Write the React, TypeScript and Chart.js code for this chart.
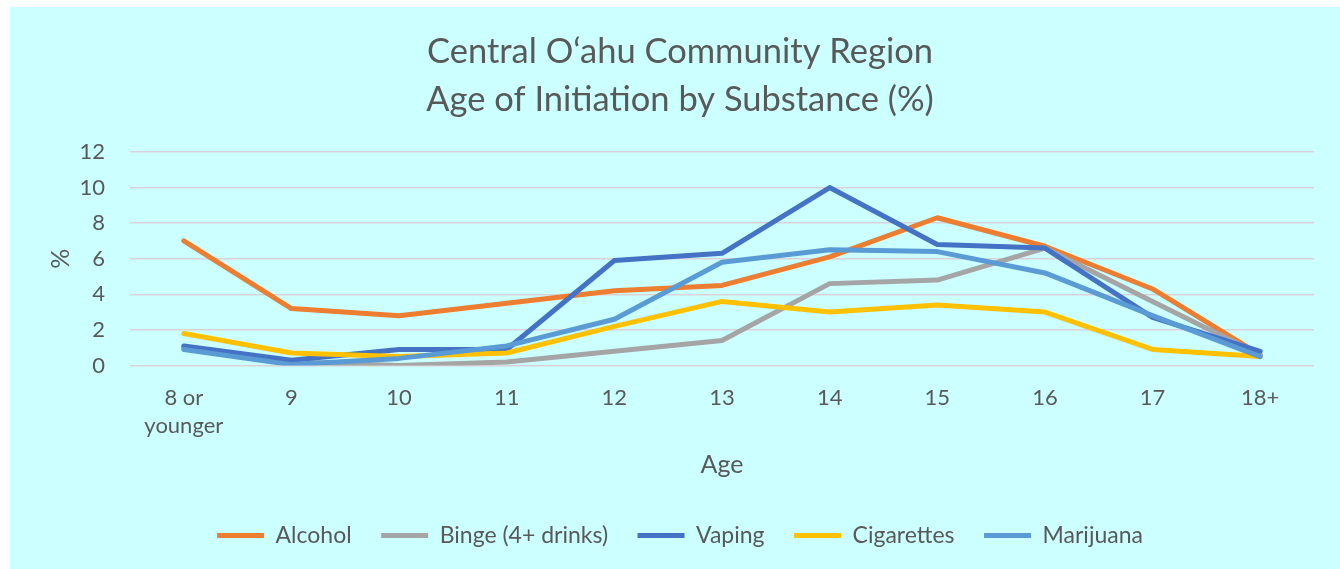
import React, { useEffect, useRef } from "react";
import { Chart, registerables } from "chart.js";

Chart.register(...registerables);

const ageLabels: (string | string[])[] = [["8 or", "younger"], "9", "10", "11", "12", "13", "14", "15", "16", "17", "18+"];

const alcohol = [7.0, 3.2, 2.8, 3.5, 4.2, 4.5, 6.1, 8.3, 6.7, 4.3, 0.6];
const binge = [1.0, 0.2, 0.0, 0.2, 0.8, 1.4, 4.6, 4.8, 6.6, 3.6, 0.6];
const vaping = [1.1, 0.3, 0.9, 0.9, 5.9, 6.3, 10.0, 6.8, 6.6, 2.7, 0.8];
const cigarettes = [1.8, 0.7, 0.5, 0.7, 2.2, 3.6, 3.0, 3.4, 3.0, 0.9, 0.5];
const marijuana = [0.9, 0.05, 0.4, 1.1, 2.6, 5.8, 6.5, 6.4, 5.2, 2.8, 0.5];

const seriesNames = ["Alcohol", "Binge (4+ drinks)", "Vaping", "Cigarettes", "Marijuana"];
const seriesColors = ["#ED7D31", "#A5A5A5", "#4472C4", "#FFC000", "#5B9BD5"];

const titleLines = ["Central O\u2018ahu Community Region", "Age of Initiation by Substance (%)"];

const FONT = "Lato, 'Open Sans', sans-serif";
const TEXT = "#595959";

export default function App() {
  const ref = useRef<HTMLCanvasElement | null>(null);

  useEffect(() => {
    if (!ref.current) return;
    const values = [alcohol, binge, vaping, cigarettes, marijuana];
    const chart = new Chart(ref.current, {
      type: "line",
      data: {
        labels: ageLabels,
        datasets: values.map((v, i) => ({
          label: seriesNames[i],
          data: v,
          borderColor: seriesColors[i],
          backgroundColor: seriesColors[i],
          borderWidth: 5,
          pointRadius: 0,
          tension: 0,
          borderJoinStyle: "round" as const,
          borderCapStyle: "round" as const,
          order: values.length - i,
        })),
      },
      options: {
        animation: false,
        responsive: true,
        maintainAspectRatio: false,
        layout: { padding: { left: 36, right: 26, top: 0, bottom: 12 } },
        plugins: {
          title: {
            display: true,
            text: titleLines,
            color: TEXT,
            font: { family: FONT, size: 34.5, weight: "normal", lineHeight: 1.39 },
            padding: { top: 21, bottom: 28 },
          },
          legend: {
            position: "bottom",
            labels: {
              color: TEXT,
              font: { family: FONT, size: 23 },
              boxWidth: 47,
              boxHeight: 5,
              padding: 29.5,
              sort: (a: any, b: any) => a.datasetIndex - b.datasetIndex,
              generateLabels: (ch: any) => {
                const items = Chart.defaults.plugins.legend.labels.generateLabels(ch);
                return items.map((it: any) => ({ ...it, lineWidth: 0, fillStyle: seriesColors[it.datasetIndex] }));
              },
            },
          },
          tooltip: { enabled: false },
        },
        scales: {
          x: {
            offset: true,
            grid: { display: false },
            border: { display: false },
            afterFit: (scale: any) => {
              scale.height = 129;
            },
            ticks: {
              color: TEXT,
              font: { family: FONT, size: 22, lineHeight: "28px" },
              padding: 10,
              maxRotation: 0,
              autoSkip: false,
            },
            title: {
              display: true,
              text: "Age",
              color: TEXT,
              font: { family: FONT, size: 25 },
              padding: { top: 14.5, bottom: 14.5 },
            },
          },
          y: {
            min: 0,
            max: 12,
            afterFit: (scale: any) => {
              scale.width = 84;
            },
            grid: { color: "rgb(217,211,216)", lineWidth: 1.5, drawTicks: false },
            border: { display: false },
            ticks: {
              stepSize: 2,
              color: TEXT,
              font: { family: FONT, size: 22 },
              padding: 25,
            },
            title: {
              display: true,
              text: "%",
              color: TEXT,
              font: { family: FONT, size: 25 },
              padding: { top: 0, bottom: 0 },
            },
          },
        },
      },
    });
    return () => chart.destroy();
  }, []);

  return (
    <div style={{ position: "fixed", left: 0, top: 0, width: 1340, height: 569, background: "#FFFFFF" }}>
      <div style={{ position: "absolute", left: 10, top: 7, width: 1330, height: 562, background: "#CCFFFF" }}>
        <canvas ref={ref} />
      </div>
    </div>
  );
}
